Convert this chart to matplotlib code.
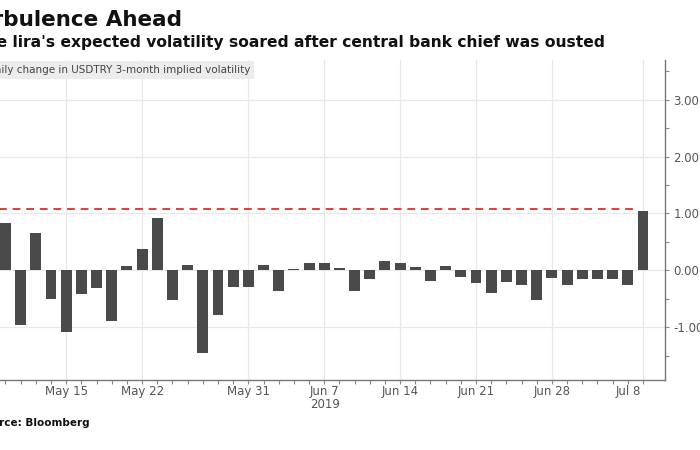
import matplotlib
matplotlib.use("Agg")
from matplotlib import pyplot as plt
from matplotlib.ticker import MultipleLocator, FixedLocator, FormatStrFormatter
import matplotlib.transforms as mtransforms

# business days shown, May 9 .. Jul 8 2019
dates = ["May 9", "May 10", "May 13", "May 14", "May 15", "May 16", "May 17",
         "May 20", "May 21", "May 22", "May 23", "May 24", "May 27", "May 28",
         "May 29", "May 30", "May 31",
         "Jun 3", "Jun 4", "Jun 5", "Jun 6", "Jun 7", "Jun 10", "Jun 11",
         "Jun 12", "Jun 13", "Jun 14", "Jun 17", "Jun 18", "Jun 19", "Jun 20",
         "Jun 21", "Jun 24", "Jun 25", "Jun 26", "Jun 27", "Jun 28",
         "Jul 1", "Jul 2", "Jul 3", "Jul 4", "Jul 5", "Jul 8"]
vol_change = [0.83, -0.96, 0.65, -0.50, -1.08, -0.42, -0.31, -0.90, 0.07, 0.37,
              0.92, -0.53, 0.10, -1.46, -0.79, -0.29, -0.30, 0.10, -0.36, 0.03,
              0.12, 0.12, 0.04, -0.36, -0.15, 0.17, 0.13, 0.06, -0.19, 0.07,
              -0.12, -0.23, -0.40, -0.20, -0.26, -0.53, -0.13, -0.26, -0.16,
              -0.16, -0.15, -0.26, 1.05]
tick_labels = ["May 15", "May 22", "May 31", "Jun 7", "Jun 14", "Jun 21",
               "Jun 28", "Jul 8"]
ref_level = 1.08

x = list(range(len(dates)))
tick_pos = [dates.index(d) for d in tick_labels]

fig = plt.figure(figsize=(7, 4.5), dpi=100)
W, H = 700, 450
ax = fig.add_axes([0, (H - 380) / H, 665 / W, (380 - 60) / H])

ax.bar(x, vol_change, width=0.72, color="#4a4a4a", zorder=3)
ax.hlines(ref_level, -1, 41.6, colors="#dc4035", linestyles=(0, (4, 3)),
          linewidth=1.4, zorder=4)

ax.set_xlim(-0.36, 43.45)
ax.set_ylim(-1.93, 3.7)

ax.yaxis.tick_right()
ax.yaxis.set_major_locator(MultipleLocator(1))
ax.yaxis.set_minor_locator(MultipleLocator(0.5))
ax.yaxis.set_major_formatter(FormatStrFormatter("%.2f"))
ax.xaxis.set_major_locator(FixedLocator(tick_pos))
ax.xaxis.set_minor_locator(FixedLocator(x))
ax.set_xticklabels(tick_labels)

for s in ["top", "left"]:
    ax.spines[s].set_visible(False)
for s in ["right", "bottom"]:
    ax.spines[s].set_color("#777777")
    ax.spines[s].set_linewidth(1.0)

ax.tick_params(axis="both", which="both", colors="#888888", labelcolor="#555555",
               labelsize=8.5, length=3, width=0.8)
ax.tick_params(axis="y", which="major", pad=3)
ax.tick_params(axis="x", which="major", pad=0.5)
ax.grid(True, which="major", color="#e8e8e8", linewidth=0.9, zorder=0)

# last label is nudged left as in the original
lbl = ax.get_xticklabels()[-1]
lbl.set_transform(lbl.get_transform() + mtransforms.ScaledTranslation(-15 / 100, 0, fig.dpi_scale_trans))

fig.text(325 / W, 1 - 404 / H, "2019", ha="center", va="center", fontsize=8.5, color="#555555")

# headline texts, cropped on the left as in the reference
fig.text(182 / W, 1 - 20 / H, "Turbulence Ahead", ha="right", va="center",
         fontsize=15.5, fontweight="bold", color="#111111")
fig.text(605 / W, 1 - 43 / H,
         "The lira's expected volatility soared after central bank chief was ousted",
         ha="right", va="center", fontsize=11.15, fontweight="bold", color="#111111")
fig.text(250 / W, 1 - 70 / H, "Daily change in USDTRY 3-month implied volatility",
         ha="right", va="center", fontsize=7.5, color="#444444",
         bbox=dict(boxstyle="square,pad=0.35", facecolor="#ececec", edgecolor="none"))
fig.text(90 / W, 1 - 423 / H, "Source: Bloomberg", ha="right", va="center",
         fontsize=7.5, fontweight="bold", color="#111111")

fig.savefig("out.png", dpi=100)
